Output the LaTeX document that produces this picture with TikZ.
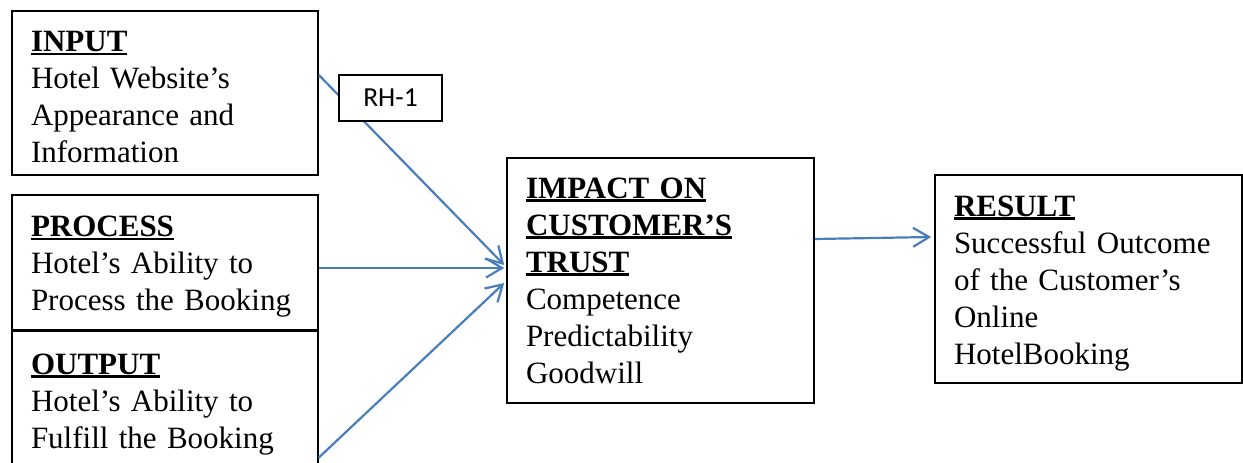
\documentclass[tikz,border=0pt]{standalone}
\usepackage{fontspec}
\setmainfont{Liberation Serif}
\newfontfamily\tagfont{Carlito}
\usepackage{tikz}
\usetikzlibrary{arrows.meta,positioning,calc}
\usepackage{xcolor}

\definecolor{linkblue}{HTML}{4A7EBB}

% bold heading with a heavy underline
\newcommand{\hdr}[1]{\leavevmode\setbox0\hbox{\bfseries #1}\rlap{\rule[-3.5pt]{\wd0}{2.4pt}}\box0}

\begin{document}
\begin{tikzpicture}[x=1pt, y=-1pt,
    box/.style={draw, line width=1.6pt, align=left, inner xsep=19pt, inner ysep=0pt,
        text width=268pt, font=\fontsize{31}{37}\selectfont},
    lowered/.style={execute at begin node={\rule{0pt}{29pt}}},
    link/.style={draw=linkblue, line width=2.2pt, -{Straight Barb[length=16pt,width=19pt]}},
    tag/.style={draw, fill=white, line width=1.2pt, minimum width=103pt, minimum height=46pt,
        font=\tagfont\fontsize{27.5}{30}\selectfont}]
    \useasboundingbox (0,0) rectangle (1243,463);
    \fill[white] (0,0) rectangle (1243,463);
    \clip (0,0) rectangle (1243,463);

    % Left column: input, process, output
    \node[box, lowered, minimum height=164pt] (input) at (165,93)
        {\hdr{INPUT}\\Hotel Website’s\\Appearance and\\Information};
    \node[box, lowered, minimum height=135pt] (process) at (165,262.5)
        {\hdr{PROCESS}\\Hotel’s Ability to\\Process the Booking};
    \node[box, lowered, minimum height=137pt, below=0pt of process] (output)
        {\hdr{OUTPUT}\\Hotel’s Ability to\\Fulfill the Booking};

    % Trust in the middle
    \node[box, minimum height=245pt, text width=269pt] (impact) at (660.5,280.5)
        {\hdr{IMPACT ON}\\\hdr{CUSTOMER’S}\\\hdr{TRUST}\\Competence\\Predictability\\Goodwill};

    % Result on the right
    \node[box, lowered, minimum height=208pt, text width=269pt] (result) at (1088.5,279)
        {\hdr{RESULT}\\Successful Outcome\\of the Customer’s\\Online\\HotelBooking};

    % Arrows into the trust box
    \draw[link] ($(input.east)+(0,-18)$) -- ($(impact.west)+(-2,-15.5)$);
    \draw[link] ($(process.east)+(0,5.5)$) -- ($(impact.west)+(-2,-12.5)$);
    \draw[link] ($(output.east)+(0,57.5)$) -- ($(impact.west)+(-2,2.5)$);

    % Arrow to the result
    \draw[link] ($(impact.east)+(0,-41.5)$) -- ($(result.west)+(-3,-42)$);

    % Hypothesis tag sits on top of the first arrow
    \node[tag] (rh) at (390.5,98) {RH-1};
\end{tikzpicture}
\end{document}
